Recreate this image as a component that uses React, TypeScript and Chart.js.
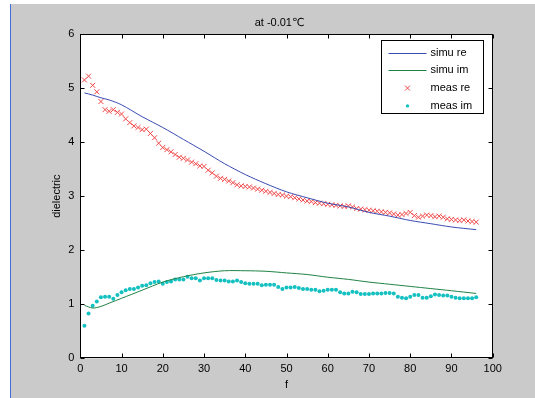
import React, { useEffect, useRef } from "react";
import { Chart, registerables } from "chart.js";

Chart.register(...registerables);

const titleText = "at -0.01℃";
const xLabel = "f";
const yLabel = "dielectric";
const xMin = 0;
const xMax = 100;
const xStep = 10;
const yMin = 0;
const yMax = 6;
const yStep = 1;

const seriesNames = ["simu re", "simu im", "meas re", "meas im"];

const measF = [
  1, 2, 3, 4, 5, 6, 7, 8, 9, 10,
  11, 12, 13, 14, 15, 16, 17, 18, 19, 20,
  21, 22, 23, 24, 25, 26, 27, 28, 29, 30,
  31, 32, 33, 34, 35, 36, 37, 38, 39, 40,
  41, 42, 43, 44, 45, 46, 47, 48, 49, 50,
  51, 52, 53, 54, 55, 56, 57, 58, 59, 60,
  61, 62, 63, 64, 65, 66, 67, 68, 69, 70,
  71, 72, 73, 74, 75, 76, 77, 78, 79, 80,
  81, 82, 83, 84, 85, 86, 87, 88, 89, 90,
  91, 92, 93, 94, 95, 96,
];

const measRe = [
  5.15, 5.22, 5.05, 4.93, 4.75, 4.6, 4.57, 4.6, 4.55, 4.52,
  4.43, 4.36, 4.3, 4.27, 4.23, 4.24, 4.16, 4.08, 3.98, 3.9,
  3.86, 3.82, 3.77, 3.72, 3.7, 3.67, 3.63, 3.6, 3.56, 3.55,
  3.48, 3.43, 3.37, 3.33, 3.31, 3.28, 3.25, 3.21, 3.19, 3.18,
  3.17, 3.15, 3.13, 3.11, 3.09, 3.07, 3.05, 3.03, 3.02, 3.0,
  2.99, 2.97, 2.95, 2.93, 2.91, 2.9, 2.88, 2.87, 2.86, 2.85,
  2.84, 2.83, 2.82, 2.81, 2.82, 2.8, 2.77, 2.76, 2.75, 2.74,
  2.73, 2.72, 2.71, 2.7, 2.69, 2.67, 2.65, 2.66, 2.68, 2.7,
  2.64, 2.61, 2.63, 2.65, 2.64, 2.62, 2.63, 2.61, 2.58, 2.57,
  2.56, 2.55, 2.56, 2.54, 2.53, 2.52,
];

const measIm = [
  0.6, 0.83, 0.97, 1.05, 1.13, 1.14, 1.14, 1.1, 1.17, 1.22,
  1.26, 1.28, 1.28, 1.31, 1.34, 1.35, 1.39, 1.41, 1.42, 1.38,
  1.41, 1.42, 1.46, 1.46, 1.46, 1.51, 1.48, 1.48, 1.44, 1.48,
  1.48, 1.48, 1.45, 1.44, 1.44, 1.42, 1.42, 1.44, 1.41, 1.39,
  1.38, 1.38, 1.38, 1.35, 1.36, 1.36, 1.36, 1.32, 1.28, 1.31,
  1.31, 1.32, 1.3, 1.28, 1.28, 1.27, 1.27, 1.24, 1.25, 1.27,
  1.27, 1.27, 1.22, 1.2, 1.2, 1.23, 1.22, 1.19, 1.19, 1.19,
  1.2, 1.2, 1.2, 1.21, 1.21, 1.2, 1.14, 1.12, 1.11, 1.14,
  1.17, 1.17, 1.12, 1.12, 1.15, 1.18, 1.17, 1.16, 1.16, 1.14,
  1.12, 1.11, 1.11, 1.11, 1.11, 1.13,
];

const simuF = [1, 3, 5, 7, 10, 15, 20, 25, 30, 35, 40, 45, 50, 55, 60, 65, 70, 75, 80, 85, 90, 96];
const simuRe = [
  4.91, 4.87, 4.82, 4.78, 4.69, 4.47, 4.27, 4.05, 3.83, 3.6, 3.4,
  3.23, 3.08, 2.97, 2.87, 2.8, 2.7, 2.63, 2.55, 2.49, 2.43, 2.38,
];
const simuIm = [
  0.98, 0.93, 0.96, 1.02, 1.11, 1.26, 1.41, 1.51, 1.58, 1.62, 1.62,
  1.61, 1.58, 1.55, 1.5, 1.46, 1.41, 1.37, 1.33, 1.29, 1.25, 1.2,
];

const FONT = "'Liberation Sans', Arial, 'DejaVu Sans', sans-serif";
const COL_RE = "#3a4cb2";
const COL_IM = "#1f8246";
const COL_MRE = "#f04848";
const COL_MIM = "#14c0c0";

const toPts = (xs: number[], ys: number[]) => xs.map((x, i) => ({ x, y: ys[i] }));

const framePlugin = {
  id: "matlabFrame",
  afterLayout(chart: any) {
    const t = chart.titleBlock;
    const a = chart.chartArea;
    if (t && a) {
      t.left = a.left - 14;
      t.right = a.right;
      t.width = t.right - t.left;
    }
  },
  beforeDraw(chart: any) {
    const { ctx, chartArea: a } = chart;
    ctx.save();
    ctx.fillStyle = "#ffffff";
    ctx.fillRect(a.left, a.top, a.right - a.left, a.bottom - a.top);
    ctx.restore();
  },
  afterDraw(chart: any) {
    const { ctx, chartArea: a } = chart;
    ctx.save();
    ctx.strokeStyle = "#000";
    ctx.lineWidth = 1;
    const L = Math.round(a.left) + 0.5;
    const R = Math.round(a.right) - 0.5;
    const T = Math.round(a.top) + 0.5;
    const B = Math.round(a.bottom) - 0.5;
    ctx.strokeRect(L, T, R - L, B - T);
    const tl = 4;
    ctx.beginPath();
    const xs = chart.scales.x;
    xs.ticks.forEach((tk: any) => {
      const px = Math.round(xs.getPixelForValue(tk.value)) + 0.5;
      ctx.moveTo(px, B);
      ctx.lineTo(px, B - tl);
      ctx.moveTo(px, T);
      ctx.lineTo(px, T + tl);
    });
    const ys = chart.scales.y;
    ys.ticks.forEach((tk: any) => {
      const py = Math.round(ys.getPixelForValue(tk.value)) + 0.5;
      ctx.moveTo(L, py);
      ctx.lineTo(L + tl, py);
      ctx.moveTo(R, py);
      ctx.lineTo(R - tl, py);
    });
    ctx.stroke();

    // legend box
    const w = 102;
    const h = 73;
    const lx = Math.round(a.right - 10 - w) + 0.5;
    const ly = Math.round(a.top + 6) + 0.5;
    ctx.fillStyle = "#fff";
    ctx.fillRect(lx, ly, w, h);
    ctx.strokeRect(lx, ly, w, h);
    ctx.font = `11px ${FONT}`;
    ctx.textBaseline = "middle";
    ctx.textAlign = "left";
    chart.data.datasets.forEach((ds: any, i: number) => {
      const cy = ly + 12 + i * 17.8;
      const x0 = lx + 7;
      const x1 = lx + 45;
      const cx = (x0 + x1) / 2;
      if (ds.showLine !== false) {
        ctx.strokeStyle = ds.borderColor;
        ctx.lineWidth = 1;
        ctx.beginPath();
        ctx.moveTo(x0, Math.round(cy) + 0.5);
        ctx.lineTo(x1, Math.round(cy) + 0.5);
        ctx.stroke();
      } else if (ds.pointStyle === "crossRot") {
        ctx.strokeStyle = ds.borderColor;
        ctx.lineWidth = 1;
        ctx.beginPath();
        ctx.moveTo(cx - 2.5, cy - 2.5);
        ctx.lineTo(cx + 2.5, cy + 2.5);
        ctx.moveTo(cx + 2.5, cy - 2.5);
        ctx.lineTo(cx - 2.5, cy + 2.5);
        ctx.stroke();
      } else {
        ctx.fillStyle = ds.backgroundColor;
        ctx.beginPath();
        ctx.arc(cx, cy, 1.7, 0, Math.PI * 2);
        ctx.fill();
      }
      ctx.fillStyle = "#000";
      ctx.fillText(ds.label, lx + 49, cy);
    });
    ctx.restore();
  },
};

export default function App() {
  const ref = useRef<HTMLCanvasElement | null>(null);

  useEffect(() => {
    if (!ref.current) return;
    Chart.defaults.font.family = FONT;
    Chart.defaults.font.size = 11;
    Chart.defaults.color = "#000";
    const chart = new Chart(ref.current, {
      type: "scatter",
      data: {
        datasets: [
          {
            label: seriesNames[0],
            data: toPts(simuF, simuRe),
            showLine: true,
            borderColor: COL_RE,
            backgroundColor: COL_RE,
            borderWidth: 1,
            pointRadius: 0,
            tension: 0.3,
          },
          {
            label: seriesNames[1],
            data: toPts(simuF, simuIm),
            showLine: true,
            borderColor: COL_IM,
            backgroundColor: COL_IM,
            borderWidth: 1,
            pointRadius: 0,
            tension: 0.3,
          },
          {
            label: seriesNames[2],
            data: toPts(measF, measRe),
            showLine: false,
            pointStyle: "crossRot",
            pointRadius: 3.5,
            borderWidth: 1,
            borderColor: COL_MRE,
            backgroundColor: COL_MRE,
          },
          {
            label: seriesNames[3],
            data: toPts(measF, measIm),
            showLine: false,
            pointStyle: "circle",
            pointRadius: 2,
            borderWidth: 0,
            borderColor: COL_MIM,
            backgroundColor: COL_MIM,
          },
        ] as any,
      },
      options: {
        animation: false,
        responsive: false,
        devicePixelRatio: 1,
        layout: { padding: { left: 0, top: 0, right: 42.3, bottom: 0 } },
        plugins: {
          legend: { display: false },
          tooltip: { enabled: false },
          title: {
            display: true,
            text: titleText,
            color: "#000",
            font: { size: 11, weight: "normal", family: FONT },
            padding: { top: 16.4, bottom: 4.4 },
          },
        },
        scales: {
          x: {
            type: "linear",
            min: xMin,
            max: xMax,
            afterFit: (s: any) => {
              s.height = 39.7;
            },
            ticks: { stepSize: xStep, padding: 4, color: "#000", font: { size: 11 } },
            grid: { display: false, drawTicks: false },
            border: { display: false },
            title: {
              display: true,
              text: xLabel,
              color: "#000",
              font: { size: 11 },
              padding: { top: 0, bottom: 6.4 },
            },
          },
          y: {
            type: "linear",
            min: yMin,
            max: yMax,
            afterFit: (s: any) => {
              s.width = 80.3;
            },
            ticks: { stepSize: yStep, padding: 6, color: "#000", font: { size: 11 } },
            grid: { display: false, drawTicks: false },
            border: { display: false },
            title: {
              display: true,
              text: yLabel,
              color: "#000",
              font: { size: 11 },
              padding: { top: 50.4, bottom: 0 },
            },
          },
        },
      } as any,
      plugins: [framePlugin],
    });
    return () => chart.destroy();
  }, []);

  return (
    <div
      style={{
        position: "fixed",
        left: 0,
        top: 0,
        width: 535,
        height: 398,
        background: "#ffffff",
        overflow: "hidden",
      }}
    >
      <div style={{ position: "absolute", left: 10, top: 4, width: 1, bottom: 0, background: "#3f6fd6" }} />
      <div style={{ position: "absolute", left: 11, top: 4, right: 0, bottom: 0, background: "#cacaca" }} />
      <canvas
        ref={ref}
        width={535}
        height={398}
        style={{ position: "absolute", left: 0, top: 0, width: 535, height: 398 }}
      />
    </div>
  );
}
